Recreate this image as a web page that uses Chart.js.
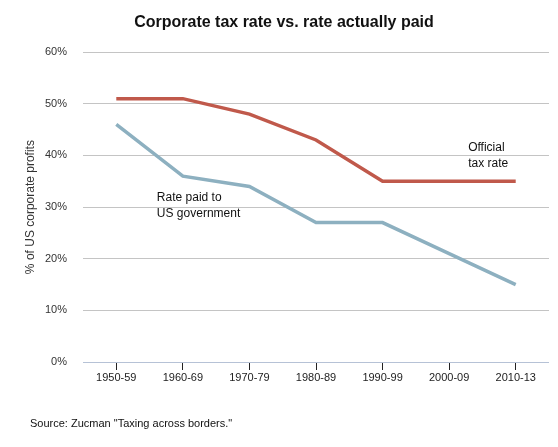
<!DOCTYPE html>
<html>
<head>
<meta charset="utf-8">
<script src="https://cdn.jsdelivr.net/npm/chart.js@4"></script>
<style>
html,body{margin:0;padding:0;background:#fff;}
#wrap{width:558px;height:447px;position:relative;}
</style>
</head>
<body>
<div id="wrap"><canvas id="c" width="558" height="447"></canvas></div>
<script>
const categories = ["1950-59","1960-69","1970-79","1980-89","1990-99","2000-09","2010-13"];
const officialRate = [51, 51, 48, 43, 35, 35, 35];
const paidRate = [46, 36, 34, 27, 27, 21, 15];
const yTicks = [0, 10, 20, 30, 40, 50, 60];
const titleText = "Corporate tax rate vs. rate actually paid";
const yTitle = "% of US corporate profits";
const sourceText = 'Source: Zucman "Taxing across borders."';
const notes = [
  {lines: ["Official", "tax rate"], cat: 5, val: 35, dx: 19, dy: -34},
  {lines: ["Rate paid to", "US government"], cat: 1, val: 30, dx: -26, dy: -9}
];

const FONT = "'Liberation Sans', Arial, sans-serif";

const notesPlugin = {
  id: 'notes',
  afterDatasetsDraw(chart) {
    const ctx = chart.ctx;
    const xs = chart.scales.x, ys = chart.scales.y;
    ctx.save();
    ctx.fillStyle = '#111';
    ctx.font = "12px " + FONT;
    ctx.textAlign = 'left';
    ctx.textBaseline = 'middle';
    notes.forEach(n => {
      const x = xs.getPixelForValue(n.cat) + n.dx;
      const y = ys.getPixelForValue(n.val) + n.dy;
      n.lines.forEach((l, i) => ctx.fillText(l, x, y + i * 16));
    });
    ctx.font = "11px " + FONT;
    ctx.fillStyle = '#111';
    ctx.fillText(sourceText, 30, chart.height - 23);
    ctx.restore();
  }
};

new Chart(document.getElementById('c'), {
  type: 'line',
  data: {
    labels: categories,
    datasets: [
      {label: 'Official tax rate', data: officialRate, borderColor: '#c0594b', borderWidth: 3.5, pointRadius: 0, tension: 0, fill: false},
      {label: 'Rate paid to US government', data: paidRate, borderColor: '#8db0c0', borderWidth: 3.5, pointRadius: 0, tension: 0, fill: false}
    ]
  },
  options: {
    responsive: false,
    animation: false,
    devicePixelRatio: 1,
    layout: {padding: {left: 19, right: 9, top: 0, bottom: 40}},
    plugins: {
      legend: {display: false},
      tooltip: {enabled: false},
      title: {
        display: true, text: titleText, color: '#111',
        font: {family: FONT, size: 16, weight: 'bold'},
        padding: {top: 13, bottom: 20}
      }
    },
    scales: {
      x: {
        offset: true,
        grid: {display: true, drawOnChartArea: false, drawTicks: true, tickLength: 8, tickColor: '#222', tickWidth: 1},
        border: {display: false},
        ticks: {color: '#222', font: {family: FONT, size: 11}, padding: 1, maxRotation: 0, autoSkip: false},
        afterFit(s) { s.height = 45; }
      },
      y: {
        min: 0, max: 60,
        afterBuildTicks(s) { s.ticks = yTicks.map(v => ({value: v})); },
        grid: {
          drawTicks: false,
          color: c => (c.tick && c.tick.value === 0) ? '#b6c2d6' : '#c4c4c4',
          lineWidth: 1
        },
        border: {display: false},
        ticks: {color: '#333', font: {family: FONT, size: 11}, padding: 16, callback: v => v + '%'},
        title: {display: true, text: yTitle, color: '#333', font: {family: FONT, size: 12}, padding: {top: 4, bottom: 0}},
        afterFit(s) { s.width = 64; }
      }
    }
  },
  plugins: [notesPlugin]
});
</script>
</body>
</html>
